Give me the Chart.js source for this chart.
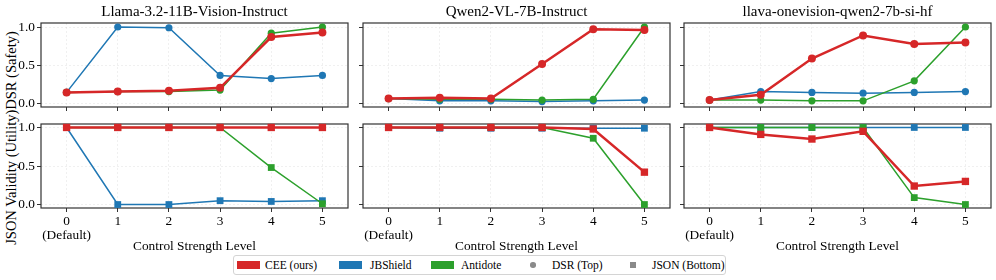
<!DOCTYPE html>
<html>
<head>
<meta charset="utf-8">
<script src="https://cdn.jsdelivr.net/npm/chart.js@4.4.0/dist/chart.umd.min.js"></script>
<style>
  html, body { margin: 0; padding: 0; background: #fff; }
  #page { position: relative; width: 996px; height: 280px; overflow: hidden; font-family: "Liberation Serif", "Times New Roman", serif; color: #000; }
  #page canvas { position: absolute; }
  #ylabel { position: absolute; white-space: nowrap; font-size: 14.5px; line-height: 16px; transform: translate(-50%, -50%) rotate(-90deg); left: 11px; top: 138px; }
  #legend { position: absolute; left: 233px; top: 255px; width: 493px; height: 20px; box-sizing: border-box; border: 1px solid #d4d4d4; border-radius: 3px; background: #fff; font-size: 11.5px; }
  #legend .h { position: absolute; }
  #legend .t { position: absolute; top: 0; line-height: 18px; white-space: nowrap; }
</style>
</head>
<body>
<div id="page">
  <div id="ylabel"><span>JSON Validity (Utility)</span><span>DSR (Safety)</span></div>
  <div id="legend"></div>
</div>
<script>
// categories
const levels = [['0', '(Default)'], '1', '2', '3', '4', '5'];
const models = ['Llama-3.2-11B-Vision-Instruct', 'Qwen2-VL-7B-Instruct', 'llava-onevision-qwen2-7b-si-hf'];
const methods = ['CEE (ours)', 'JBShield', 'Antidote'];
const methodColors = ['#d62728', '#1f77b4', '#2ca02c'];
const yTicks = [0, 0.5, 1];

// DSR (top row)
const llamaDsrCee = [0.15, 0.16, 0.17, 0.21, 0.87, 0.93];
const llamaDsrJb  = [0.15, 1.00, 0.99, 0.37, 0.33, 0.37];
const llamaDsrAnt = [0.15, 0.16, 0.16, 0.18, 0.92, 1.00];
const qwenDsrCee  = [0.07, 0.08, 0.07, 0.52, 0.97, 0.96];
const qwenDsrJb   = [0.07, 0.04, 0.04, 0.03, 0.04, 0.05];
const qwenDsrAnt  = [0.07, 0.06, 0.06, 0.05, 0.06, 1.00];
const llavaDsrCee = [0.05, 0.12, 0.59, 0.89, 0.78, 0.80];
const llavaDsrJb  = [0.05, 0.16, 0.15, 0.14, 0.15, 0.16];
const llavaDsrAnt = [0.05, 0.05, 0.04, 0.04, 0.30, 1.00];

// JSON validity (bottom row)
const llamaJsonCee = [1.00, 1.00, 1.00, 1.00, 1.00, 1.00];
const llamaJsonJb  = [1.00, 0.00, 0.00, 0.05, 0.04, 0.05];
const llamaJsonAnt = [1.00, 1.00, 1.00, 1.00, 0.48, 0.01];
const qwenJsonCee  = [1.00, 1.00, 1.00, 1.00, 0.98, 0.42];
const qwenJsonJb   = [1.00, 0.99, 0.99, 0.99, 0.99, 0.99];
const qwenJsonAnt  = [1.00, 1.00, 1.00, 1.00, 0.86, 0.00];
const llavaJsonCee = [1.00, 0.91, 0.85, 0.95, 0.24, 0.30];
const llavaJsonJb  = [1.00, 1.00, 1.00, 1.00, 1.00, 1.00];
const llavaJsonAnt = [1.00, 1.00, 1.00, 1.00, 0.09, 0.00];

const panels = [
  { dsr: [llamaDsrCee, llamaDsrJb, llamaDsrAnt], json: [llamaJsonCee, llamaJsonJb, llamaJsonAnt] },
  { dsr: [qwenDsrCee, qwenDsrJb, qwenDsrAnt], json: [qwenJsonCee, qwenJsonJb, qwenJsonAnt] },
  { dsr: [llavaDsrCee, llavaDsrJb, llavaDsrAnt], json: [llavaJsonCee, llavaJsonJb, llavaJsonAnt] }
];

// layout
const FONT = '"Liberation Serif", "Times New Roman", serif';
const COL_LEFT = [41, 363, 684];
const PLOT_W = 307;
const Y_W = 41;
const PAD_R = 6;
const drawOrder = [0, 2, 1]; // red on top, then green, then blue

const framePlugin = {
  id: 'frame',
  beforeDatasetsDraw(chart) {
    const { ctx, chartArea: a } = chart;
    ctx.save();
    ctx.strokeStyle = '#333';
    ctx.lineWidth = 1.2;
    ctx.strokeRect(a.left, a.top, a.right - a.left, a.bottom - a.top);
    ctx.restore();
  }
};

const page = document.getElementById('page');

function makePanel(col, isTop) {
  const canvas = document.createElement('canvas');
  const w = Y_W + PLOT_W + PAD_R;
  const h = isTop ? 132 : 173;
  canvas.width = w;
  canvas.height = h;
  canvas.style.width = w + 'px';
  canvas.style.height = h + 'px';
  canvas.style.left = (COL_LEFT[col] - Y_W) + 'px';
  canvas.style.top = (isTop ? 0 : 84) + 'px';
  page.appendChild(canvas);

  const series = isTop ? panels[col].dsr : panels[col].json;
  const gridColor = 'rgba(0,0,0,0.08)';

  new Chart(canvas, {
    type: 'line',
    data: {
      labels: levels,
      datasets: series.map((vals, i) => ({
        label: methods[i],
        data: vals,
        borderColor: methodColors[i],
        backgroundColor: methodColors[i],
        borderWidth: i === 0 ? 2.5 : 1.5,
        pointStyle: isTop ? 'circle' : 'rect',
        pointRadius: isTop ? (i === 0 ? 4 : 3.6) : (i === 0 ? 5.2 : 4.8),
        pointBorderWidth: 0,
        tension: 0,
        order: drawOrder[i],
        clip: false
      }))
    },
    options: {
      responsive: false,
      animation: false,
      devicePixelRatio: 1,
      layout: { padding: { top: isTop ? 0 : 40, right: PAD_R, bottom: 0, left: 0 } },
      plugins: {
        legend: { display: false },
        tooltip: { enabled: false },
        title: {
          display: isTop,
          text: models[col],
          fullSize: false,
          color: '#000',
          font: { family: FONT, size: 15, weight: 'normal', lineHeight: 1.2 },
          padding: { top: 3, bottom: 2 }
        }
      },
      scales: {
        x: {
          type: 'category',
          offset: true,
          grid: { offset: false, color: gridColor, lineWidth: 0.8, tickColor: '#333', tickLength: 4, tickWidth: 1, tickBorderDash: [] },
          border: { display: false, dash: [2, 2] },
          ticks: {
            display: !isTop,
            autoSkip: false,
            maxRotation: 0,
            padding: 2,
            color: '#000',
            font: { family: FONT, size: 13.33, lineHeight: 1.05 }
          },
          title: {
            display: !isTop,
            text: 'Control Strength Level',
            color: '#000',
            font: { family: FONT, size: 13.33, lineHeight: 1.2 },
            padding: { top: 0, bottom: 3 }
          },
          afterFit: s => { s.height = isTop ? 25 : 49; }
        },
        y: {
          type: 'linear',
          min: isTop ? -0.04 : -0.045,
          max: isTop ? 1.052 : 1.045,
          afterBuildTicks: s => { s.ticks = yTicks.map(v => ({ value: v })); },
          grid: { color: gridColor, lineWidth: 0.8, tickColor: '#333', tickLength: 4, tickWidth: 1, tickBorderDash: [] },
          border: { display: false, dash: [2, 2] },
          ticks: {
            display: col === 0,
            padding: 2,
            color: '#000',
            font: { family: FONT, size: 13.33 },
            callback: v => Number(v).toFixed(1)
          },
          afterFit: s => { s.width = Y_W; }
        }
      }
    },
    plugins: [framePlugin]
  });
}

for (let c = 0; c < 3; c++) {
  makePanel(c, true);
  makePanel(c, false);
}

// legend
const legend = document.getElementById('legend');
const legendEntries = [
  { kind: 'patch', color: methodColors[0], text: methods[0], hx: 3, tx: 31 },
  { kind: 'patch', color: methodColors[1], text: methods[1], hx: 105, tx: 136 },
  { kind: 'patch', color: methodColors[2], text: methods[2], hx: 197, tx: 227 },
  { kind: 'circle', color: '#8a8a8a', text: 'DSR (Top)', hx: 296, tx: 318 },
  { kind: 'square', color: '#8a8a8a', text: 'JSON (Bottom)', hx: 396, tx: 418 }
];
legendEntries.forEach(e => {
  const h = document.createElement('div');
  h.className = 'h';
  h.style.left = e.hx + 'px';
  h.style.background = e.color;
  if (e.kind === 'patch') {
    h.style.width = '22.6px'; h.style.height = '7.6px'; h.style.top = '5px';
  } else if (e.kind === 'circle') {
    h.style.width = '5.5px'; h.style.height = '5.5px'; h.style.top = '6.3px'; h.style.borderRadius = '50%';
  } else {
    h.style.width = '6px'; h.style.height = '6px'; h.style.top = '6px';
  }
  legend.appendChild(h);
  const t = document.createElement('div');
  t.className = 't';
  t.style.left = e.tx + 'px';
  t.textContent = e.text;
  legend.appendChild(t);
});
</script>
</body>
</html>
